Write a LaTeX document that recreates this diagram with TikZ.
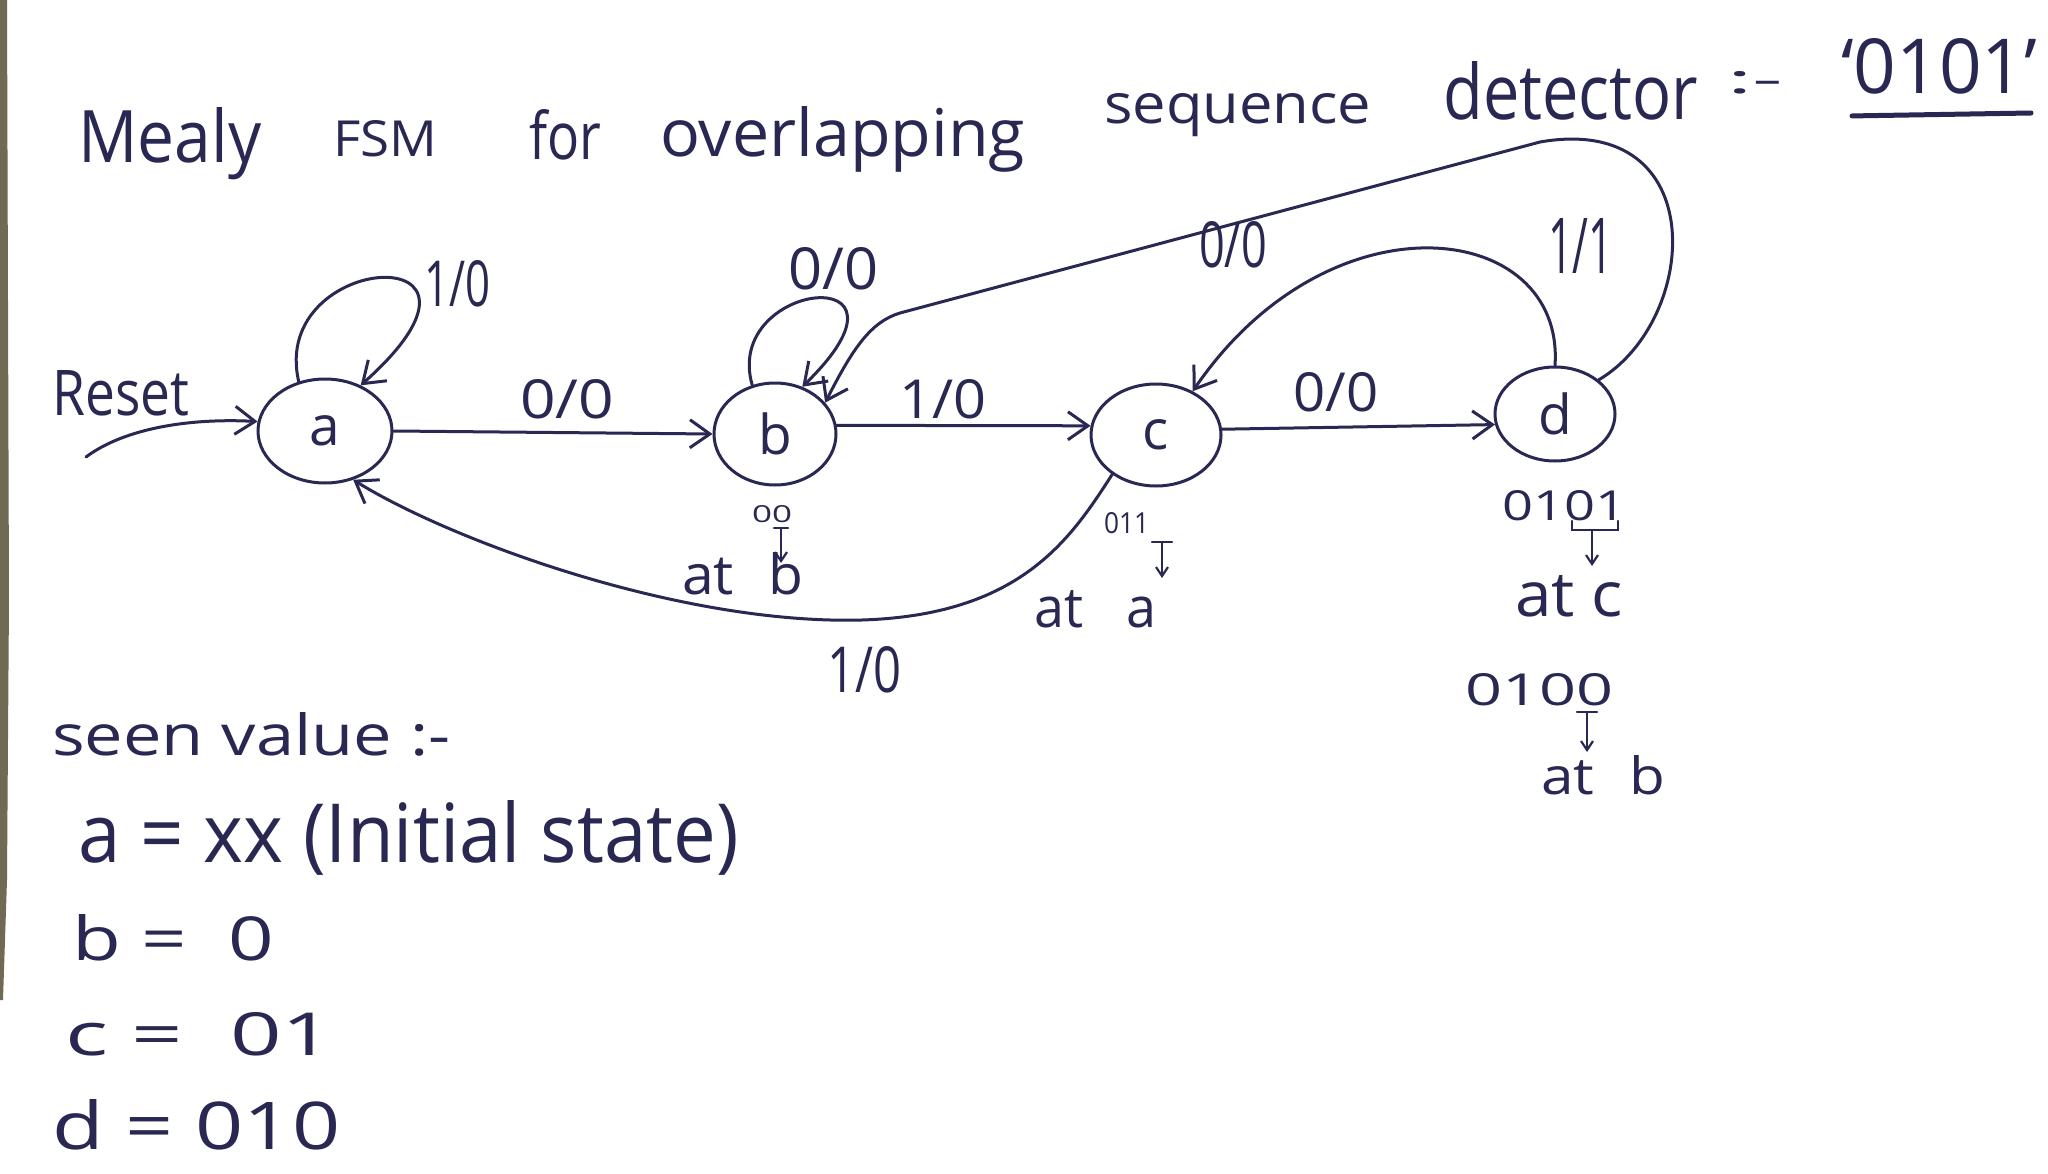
\documentclass[tikz,border=0pt]{standalone}
\usepackage{fontspec}
\setmainfont{Open Sans}
\usepackage{graphicx}
\usetikzlibrary{arrows.meta,shapes.geometric}
\definecolor{ink}{RGB}{40,40,82}
\definecolor{edgestrip}{RGB}{112,106,84}
\newcommand{\fitbox}[3]{\resizebox{#1pt}{#2pt}{#3}}
\begin{document}
\begin{tikzpicture}[x=1pt,y=-1pt,
  state/.style={draw=ink, line width=3pt, ellipse, inner sep=0pt, text=ink,
    font=\fontsize{55}{60}\selectfont},
  txt/.style={inner sep=0pt, anchor=base west, text=ink},
  small/.style={inner sep=0pt, anchor=base west, text=ink},
  arr/.style={draw=ink, line width=3pt, line cap=round,
    -{Straight Barb[length=20pt,width=28pt]}},
  sarr/.style={draw=ink, line width=2.2pt, line cap=round,
    -{Straight Barb[length=9pt,width=12pt]}},
  bar/.style={draw=ink, line width=2.2pt, line cap=round}]
\useasboundingbox (0,0) rectangle (2048,1174);
\fill[white] (0,0) rectangle (2048,1174);
\fill[edgestrip] (0,0) -- (7,0) -- (9,600) -- (7,880) -- (3,1000) -- (0,1000) -- cycle;

% title
\node[txt] (t1) at (78,163) {\fitbox{183}{55}{Mealy}};
\node[txt] (t2) at (333,157) {\fitbox{104}{36}{FSM}};
\node[txt] (t3) at (529,160) {\fitbox{72}{50}{for}};
\node[txt] (t4) at (660,157) {\fitbox{365}{50}{overlapping}};
\node[txt] (t5) at (1104,124) {\fitbox{267}{30}{sequence}};
\node[txt] (t6) at (1443,120) {\fitbox{255}{58}{detector}};
\node[txt] (t7) at (1727,94) {\fitbox{56}{22}{:-}};
\node[txt] (t8) at (1841,94) {\fitbox{196}{55}{‘0101’}};
\draw[ink, line width=5pt, line cap=round] (t8.south west) ++(11,21) coordinate (u1) -- (2031,113) coordinate (u2);

% states
\node[state, minimum width=134pt, minimum height=104pt] (a) at (325,431) {a};
\node[state, minimum width=122pt, minimum height=102pt] (b) at (775,434) {b};
\node[state, minimum width=130pt, minimum height=102pt] (c) at (1156,435) {c};
\node[state, minimum width=120pt, minimum height=94pt] (d) at (1555,414) {d};

% reset
\node[txt] (reset) at (52,415) {\fitbox{137}{45}{Reset}};
\coordinate (rs) at (86,457);
\draw[arr] (rs) .. controls (125,428) and (190,418) .. (a.172);

% transitions
\draw[arr] (a.118) .. controls (268,250) and (530,235) .. (a.52);
\draw[arr] (a.east) -- (b.west);
\draw[arr] (b.115) .. controls (722,280) and (935,258) .. (b.60);
\draw[arr] (b.8) -- (c.172);
\draw[arr] (c.5) -- (d.190);
\draw[arr] (d.north) .. controls (1565,220) and (1330,190) .. (c.50);
\draw[arr] (d.38) .. controls (1700,320) and (1712,112) .. (1540,142)
  -- (900,313) .. controls (870,322) and (852,350) .. (b.32);
\draw[arr] (c.222) .. controls (1070,540) and (1020,615) .. (862,620)
  .. controls (680,625) and (450,540) .. (a.-60);

% transition labels
\node[txt] (l1) at (424,307) {\fitbox{66}{46}{1/0}};
\node[txt] (l2) at (520,418) {\fitbox{94}{39}{0/0}};
\node[txt] (l3) at (788,290) {\fitbox{90}{42}{0/0}};
\node[txt] (l4) at (899,418) {\fitbox{87}{39}{1/0}};
\node[txt] (l5) at (1199,268) {\fitbox{68}{46}{0/0}};
\node[txt] (l6) at (1293,411) {\fitbox{85}{39}{0/0}};
\node[txt] (l7) at (1548,274) {\fitbox{65}{55}{1/1}};
\node[txt] (l8) at (827,692) {\fitbox{74}{46}{1/0}};

% notes under states
\node[small] (nb1) at (752,522) {\fitbox{40}{17}{00}};
\coordinate (ab1) at (781,528); \coordinate (ab2) at (781,563);
\draw[bar] (774,528) -- (788,528);
\draw[sarr] (ab1) -- (ab2);
\node[small] (nb2) at (682,594) {\fitbox{121}{42}{at\hspace{0.6em}b}};

\node[small] (nc1) at (1104,533) {\fitbox{45}{21}{011}};
\coordinate (ac1) at (1162,542); \coordinate (ac2) at (1162,578);
\draw[bar] (1152,542) -- (1172,542);
\draw[sarr] (ac1) -- (ac2);
\node[small] (nc2) at (1034,627) {\fitbox{122}{37}{at\hspace{0.8em}a}};

\node[small] (nd1) at (1502,520) {\fitbox{124}{30}{0101}};
\draw[bar] (1572,521) -- (1572,530) -- (1618,530) -- (1618,521);
\coordinate (ad1) at (1592,531); \coordinate (ad2) at (1592,566);
\draw[sarr] (ad1) -- (ad2);
\node[small] (nd2) at (1515,616) {\fitbox{108}{41}{at c}};

\node[small] (ne1) at (1465,705) {\fitbox{148}{32}{0100}};
\coordinate (ae1) at (1587,712); \coordinate (ae2) at (1587,752);
\draw[bar] (1577,712) -- (1597,712);
\draw[sarr] (ae1) -- (ae2);
\node[small] (ne2) at (1541,794) {\fitbox{124}{39}{at\hspace{0.6em}b}};

% seen values
\node[txt] (s0) at (52,755) {\fitbox{398}{43}{seen value :-}};
\node[txt] (s1) at (78,862) {\fitbox{660}{62}{a = xx (Initial state)}};
\node[txt] (s2) at (72,960) {\fitbox{202}{46}{b = \ 0}};
\node[txt] (s3) at (65,1055) {\fitbox{268}{43}{c = \ 01}};
\node[txt] (s4) at (52,1149) {\fitbox{288}{50}{d = 010}};
\end{tikzpicture}
\end{document}
